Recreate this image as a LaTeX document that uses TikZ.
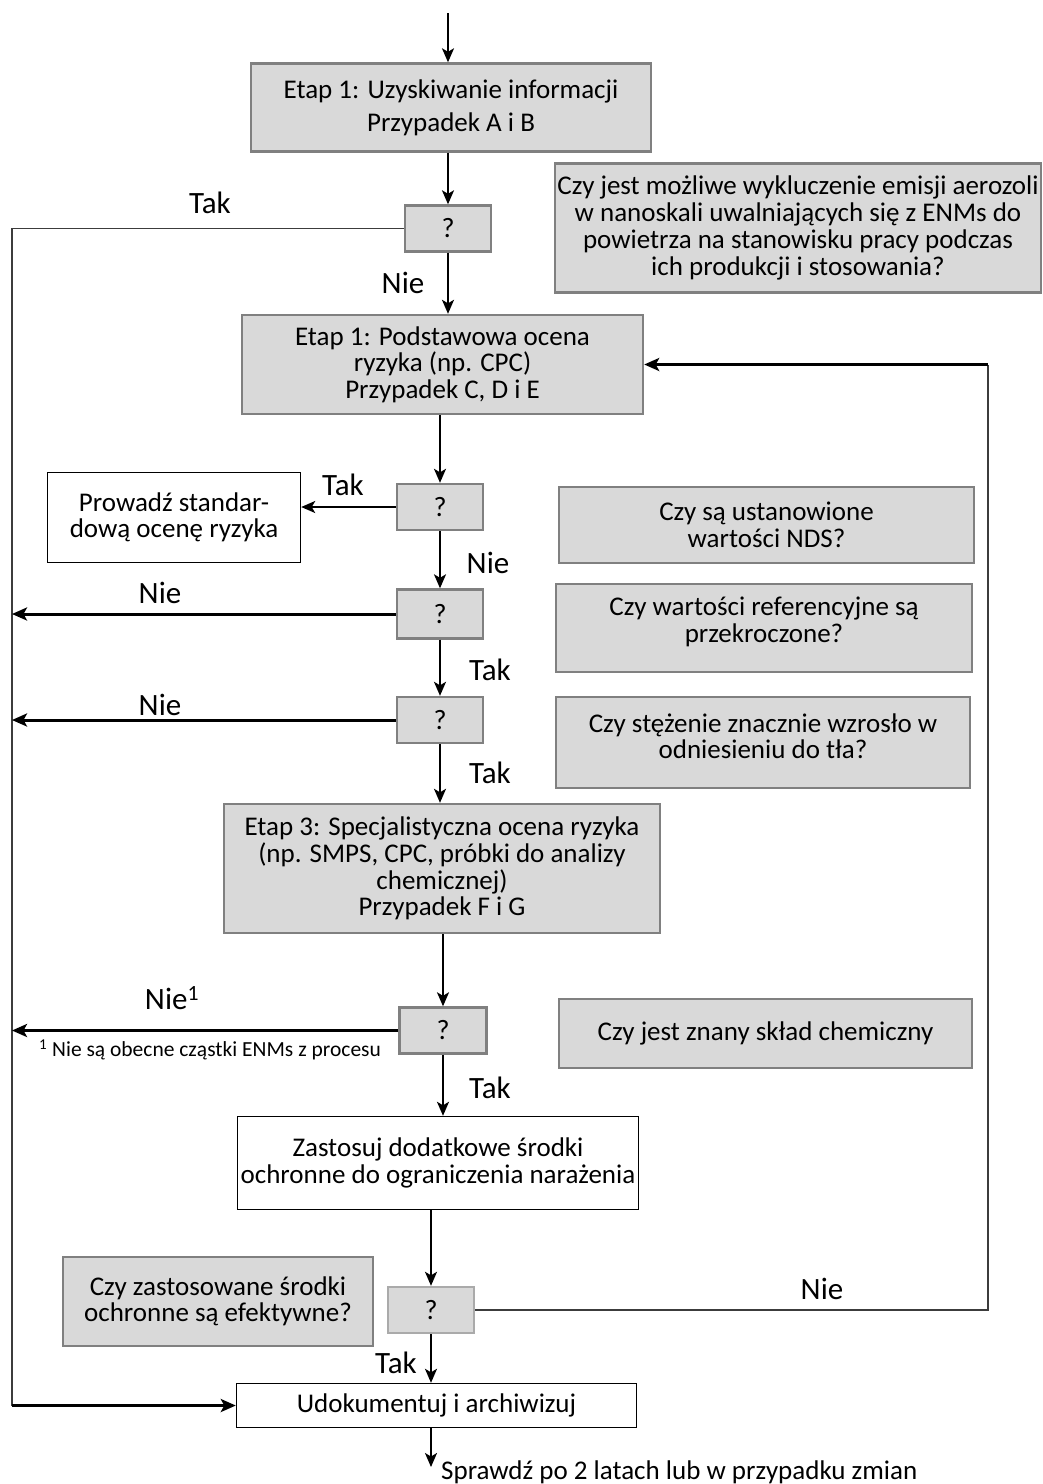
\documentclass[tikz,border=0pt]{standalone}
\usepackage{fontspec}
\setmainfont{Carlito}
\usetikzlibrary{arrows.meta}

\definecolor{boxgray}{RGB}{217,217,217}
\definecolor{edgegray}{RGB}{128,128,128}
\definecolor{edgelight}{RGB}{170,170,170}
\definecolor{linegray}{RGB}{60,60,60}

\tikzset{
  stagebox/.style={draw=edgegray, line width=2.4pt, fill=boxgray, align=center, inner sep=0pt, font=\fontsize{27}{26.5}\selectfont},
  plainbox/.style={draw=black, line width=1.4pt, fill=white, align=center, inner sep=0pt, font=\fontsize{27}{26.5}\selectfont},
  askbox/.style={stagebox, minimum width=86pt, minimum height=46pt, font=\fontsize{28}{28}\selectfont},
  lbl/.style={inner sep=0pt, font=\fontsize{31}{34}\selectfont},
  arr/.style={line width=2pt, -{Stealth[length=14pt,width=12pt,inset=3.5pt]}},
  thickarr/.style={line width=3pt, -{Stealth[length=15pt,width=13pt,inset=3.5pt]}},
  thinline/.style={draw=linegray, line width=1.4pt},
}

\begin{document}
\begin{tikzpicture}[x=1pt,y=1pt,yscale=-1]
\useasboundingbox (0,0) rectangle (1043,1484);

% Columns of the side lines
\coordinate (lcol) at (12,0);
\coordinate (rcol) at (988,0);
\coordinate (start) at (448,13);
\coordinate (out) at (431,1467);

%Shape: Rectangle
\node[stagebox, minimum width=400pt, minimum height=88pt, font=\fontsize{27}{27}\selectfont] (etapA) at (451,107.5) {Etap 1: Uzyskiwanie informacji\\[6pt]Przypadek A i B};
%Shape: Rectangle
\node[askbox] (q1) at (448,228.5) {?};
%Shape: Rectangle
\node[stagebox, minimum width=486pt, minimum height=129pt, font=\fontsize{27}{27}\selectfont] (infoA) at (798,228) {Czy jest możliwe wykluczenie emisji aerozoli\\w nanoskali uwalniających się z ENMs do\\powietrza na stanowisku pracy podczas\\ich produkcji i stosowania?};
%Shape: Rectangle
\node[stagebox, minimum width=401pt, minimum height=99pt] (etapB) at (442.5,364.5) {Etap 1: Podstawowa ocena\\ryzyka (np. CPC)\\Przypadek C, D i E};

%Shape: Rectangle
\node[askbox] (q2) at (440,507) {?};
%Shape: Rectangle
\node[plainbox, minimum width=253pt, minimum height=90pt] (standard) at (174,517.5) {Prowadź standar-\\dową ocenę ryzyka};
%Shape: Rectangle
\node[stagebox, minimum width=415pt, minimum height=76pt] (infoB) at (766.5,525) {Czy są ustanowione\\wartości NDS?};

%Shape: Rectangle
\node[askbox, minimum height=49pt] (q3) at (440,614) {?};
%Shape: Rectangle
\node[stagebox, minimum width=416pt, minimum height=88pt] (infoC) at (764,628) {Czy wartości referencyjne są\\przekroczone?\\[-10pt]};

%Shape: Rectangle
\node[askbox] (q4) at (440,720) {?};
%Shape: Rectangle
\node[stagebox, minimum width=414pt, minimum height=91pt] (infoD) at (763,742.5) {Czy stężenie znacznie wzrosło w\\odniesieniu do tła?\\[-14pt]};

%Shape: Rectangle
\node[stagebox, minimum width=436pt, minimum height=129pt, font=\fontsize{27}{26.7}\selectfont] (etapC) at (442,868.5) {Etap 3: Specjalistyczna ocena ryzyka\\(np. SMPS, CPC, próbki do analizy\\chemicznej)\\Przypadek F i G};

%Shape: Rectangle
\node[askbox, minimum width=87pt] (q5) at (443,1030.5) {?};
%Shape: Rectangle
\node[stagebox, minimum width=413pt, minimum height=69pt] (infoE) at (765.5,1033.5) {Czy jest znany skład chemiczny};

%Shape: Rectangle
\node[plainbox, minimum width=401pt, minimum height=93pt] (apply) at (438,1163) {Zastosuj dodatkowe środki\\ochronne do ograniczenia narażenia};

%Shape: Rectangle
\node[askbox, draw=edgelight] (q6) at (431,1310) {?};
%Shape: Rectangle
\node[stagebox, minimum width=310pt, minimum height=89pt] (infoF) at (218,1301.5) {Czy zastosowane środki\\ochronne są efektywne?};

%Shape: Rectangle
\node[plainbox, minimum width=400pt, minimum height=44pt] (archive) at (436.5,1405.5) {Udokumentuj i archiwizuj};

%Straight Lines
\draw[arr] (start) -- (start |- etapA.north);
\draw[arr] (etapA.south -| q1) -- (q1);
\draw[arr] (q1) -- (q1 |- etapB.north);
\draw[arr] (etapB.south -| q2) -- (q2);
\draw[arr] (q2) -- (q3);
\draw[arr] (q3) -- (q4);
\draw[arr] (q4) -- (q4 |- etapC.north);
\draw[arr] (etapC.south -| q5) -- (q5);
\draw[arr] (q5) -- (q5 |- apply.north);
\draw[arr] (apply.south -| q6) -- (q6);
\draw[arr] (q6) -- (q6 |- archive.north);
\draw[arr] (archive.south -| out) -- (out);

%Straight Lines (left side)
\draw[thinline] (q1.west) -- (q1.west -| lcol) -- (archive.west -| lcol);
\draw[thickarr] (archive.west -| lcol) -- (archive.west);
\draw[arr] (q2.west) -- (q2.west -| standard.east);
\draw[thickarr] (q3.west) -- (q3.west -| lcol);
\draw[thickarr] (q4.west) -- (q4.west -| lcol);
\draw[thickarr] (q5.west) -- (q5.west -| lcol);

%Straight Lines (right side)
\draw[thinline] (q6.east) -- (q6.east -| rcol) -- (rcol |- etapB.east);
\draw[thickarr] (rcol |- etapB.east) -- (etapB.east);

% Text Node
\node[lbl] (yes1) at (210,203) {Tak};
% Text Node
\node[lbl] (no1) at (403,283) {Nie};
% Text Node
\node[lbl] (yes2) at (343,485) {Tak};
% Text Node
\node[lbl] (no2) at (488,563) {Nie};
% Text Node
\node[lbl] (no3) at (160,593) {Nie};
% Text Node
\node[lbl] (yes3) at (490,670) {Tak};
% Text Node
\node[lbl] (no4) at (160,705) {Nie};
% Text Node
\node[lbl] (yes4) at (490,773) {Tak};
% Text Node
\node[lbl] (no5) at (172,998) {Nie\textsuperscript{1}};
% Text Node
\node[anchor=west, inner sep=0pt, font=\fontsize{21.5}{24}\selectfont] (footnote) at (39,1050) {\textsuperscript{1} Nie są obecne cząstki ENMs z procesu};
% Text Node
\node[lbl] (yes5) at (490,1088) {Tak};
% Text Node
\node[lbl] (no6) at (822,1289) {Nie};
% Text Node
\node[lbl] (yes6) at (396,1363) {Tak};
% Text Node
\node[anchor=west, inner sep=0pt, font=\fontsize{27}{30}\selectfont] (recheck) at (441,1472) {Sprawdź po 2 latach lub w przypadku zmian};

\end{tikzpicture}
\end{document}
